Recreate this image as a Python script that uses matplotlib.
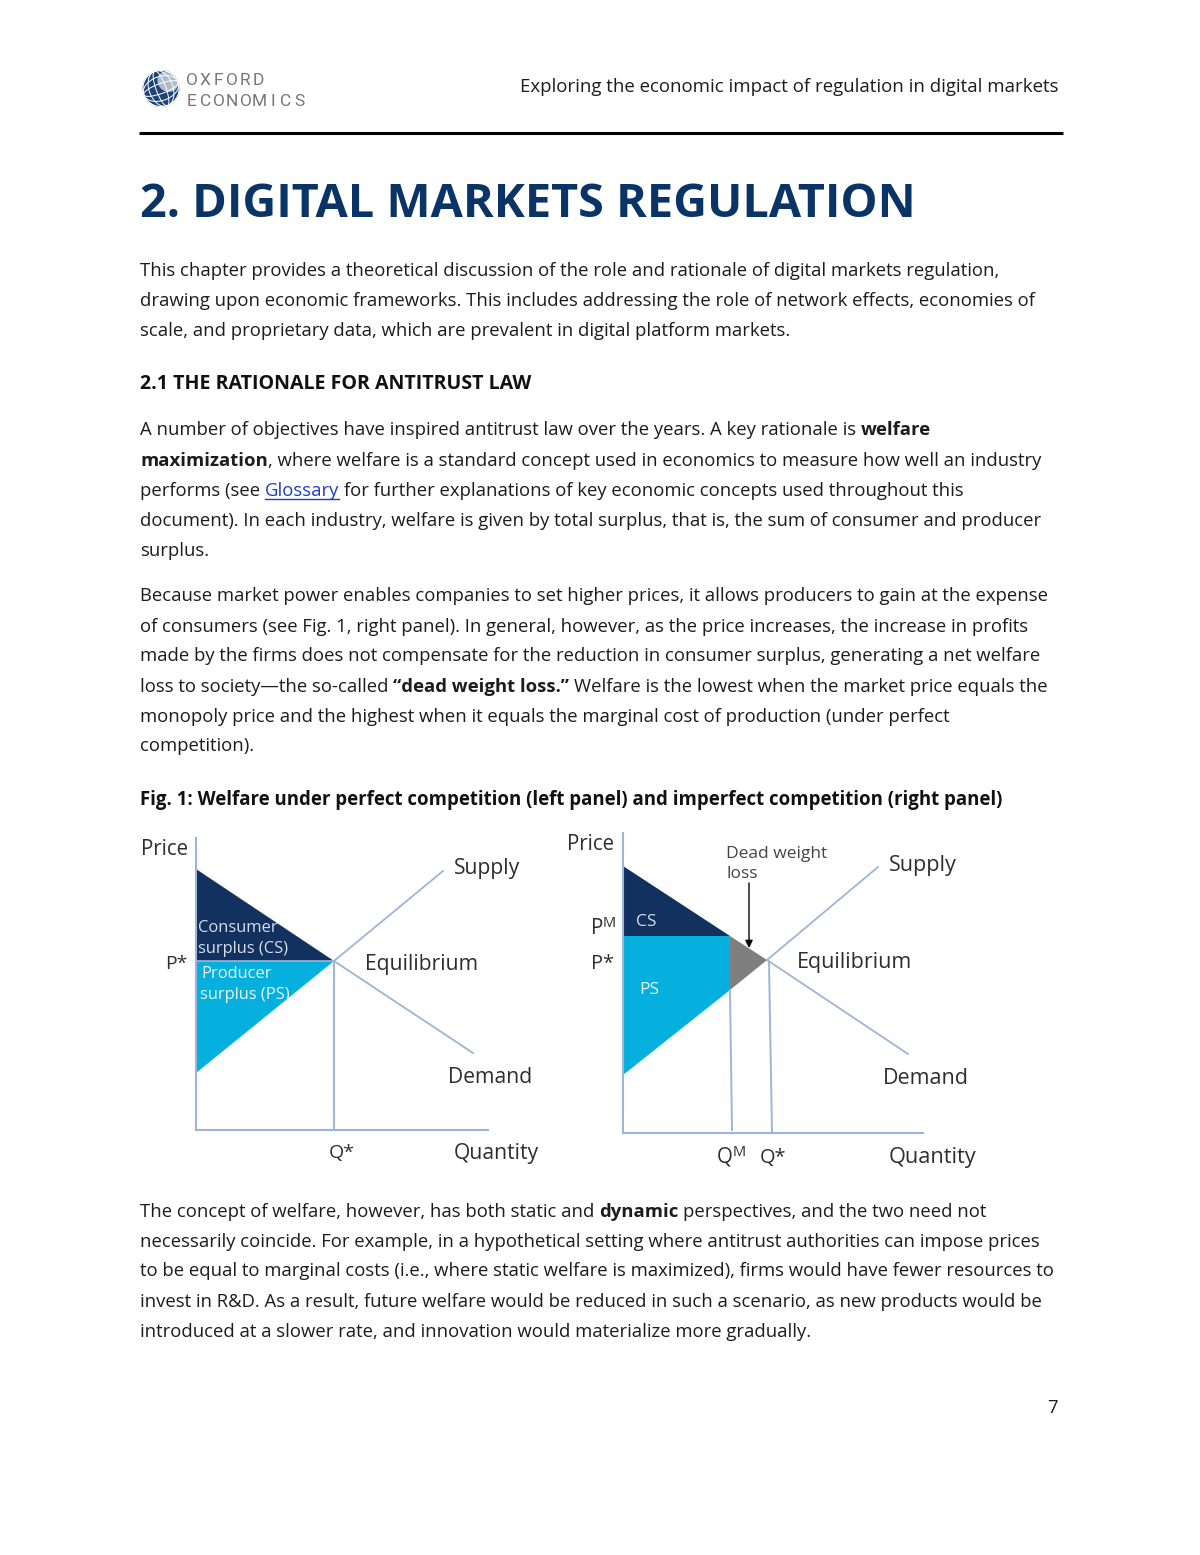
#!/usr/bin/env python3
# Report page with the welfare figure (perfect vs imperfect competition)

import matplotlib
matplotlib.use("Agg")
import matplotlib.pyplot as plt
from matplotlib.patches import Circle, Ellipse, Polygon

# page text, (text, style) runs per line
header_right = "Exploring the economic impact of regulation in digital markets"
title = "2. DIGITAL MARKETS REGULATION"
section = "2.1 THE RATIONALE FOR ANTITRUST LAW"
fig_title = "Fig. 1: Welfare under perfect competition (left panel) and imperfect competition (right panel)"
page_number = "7"

para1 = [
    "This chapter provides a theoretical discussion of the role and rationale of digital markets regulation,",
    "drawing upon economic frameworks. This includes addressing the role of network effects, economies of",
    "scale, and proprietary data, which are prevalent in digital platform markets.",
]
para2 = [
    [("A number of objectives have inspired antitrust law over the years. A key rationale is", "n"), (" welfare", "b")],
    [("maximization", "b"), (", where welfare is a standard concept used in economics to measure how well an industry", "n")],
    [("performs (see", "n"), (" Glossary", "l"), (" for further explanations of key economic concepts used throughout this", "n")],
    [("document). In each industry, welfare is given by total surplus, that is, the sum of consumer and producer", "n")],
    [("surplus.", "n")],
]
para3 = [
    [("Because market power enables companies to set higher prices, it allows producers to gain at the expense", "n")],
    [("of consumers (see Fig. 1, right panel). In general, however, as the price increases, the increase in profits", "n")],
    [("made by the firms does not compensate for the reduction in consumer surplus, generating a net welfare", "n")],
    [("loss to society—the so-called", "n"), (" “dead weight loss.”", "b"), (" Welfare is the lowest when the market price equals the", "n")],
    [("monopoly price and the highest when it equals the marginal cost of production (under perfect", "n")],
    [("competition).", "n")],
]
para4 = [
    [("The concept of welfare, however, has both static and", "n"), (" dynamic", "b"), (" perspectives, and the two need not", "n")],
    [("necessarily coincide. For example, in a hypothetical setting where antitrust authorities can impose prices", "n")],
    [("to be equal to marginal costs (i.e., where static welfare is maximized), firms would have fewer resources to", "n")],
    [("invest in R&D. As a result, future welfare would be reduced in such a scenario, as new products would be", "n")],
    [("introduced at a slower rate, and innovation would materialize more gradually.", "n")],
]

# left diagram, schematic units
left_axis_q = [0, 292]
left_axis_p = [0, 292]
left_eq = (138, 169)
left_p_top = 261
left_p_bottom = 57
left_supply_end = (247, 259)
left_demand_end = (277, 77)

# right diagram, schematic units
right_axis_q = [0, 300]
right_axis_p = [0, 300]
right_eq = (144, 173)
right_qm = 107
right_qm_foot = 109
right_q_star_foot = 149
right_pm = 197
right_supply_at_qm = 143
right_p_top = 267
right_p_bottom = 58
right_supply_end = (255, 266)
right_demand_end = (285, 79)

NAVY = "#13315f"
CYAN = "#05b0de"
GREY = "#7f7f7f"
LINE = "#9db5d6"
TITLE = "#0b3466"
INK = "#1c1c1c"
LABEL = "#2e2e2e"
FONT = "Open Sans"
BODY = 13.3
DIAG = 15.2

fig = plt.figure(figsize=(12, 15.55), dpi=100)
page = fig.add_axes([0, 0, 1, 1])
page.set_xlim(0, 1200)
page.set_ylim(1555, 0)
page.axis("off")
renderer = fig.canvas.get_renderer()


def put(x, y, s, size=BODY, color=INK, weight="normal", ha="left", family=FONT):
    return page.text(x, y, s, fontsize=size, color=color, fontweight=weight,
                     ha=ha, va="baseline", family=family, zorder=5)


def width_of(t):
    return t.get_window_extent(renderer).width


def put_runs(x, y, runs, size=BODY):
    gap = size * 0.36
    for s, style in runs:
        if s.startswith(" "):
            x += gap
            s = s[1:]
        color = "#1a3fc4" if style == "l" else INK
        t = put(x, y, s, size, color, "bold" if style == "b" else "normal")
        w = width_of(t)
        if style == "l":
            page.plot([x, x + w], [y + 3, y + 3], color=color, lw=1)
        x += w


def axes_at(x0, y_bottom, w, h):
    # panel axes from page pixels, one unit is one pixel
    ax = fig.add_axes([x0 / 1200, 1 - y_bottom / 1555, w / 1200, h / 1555])
    ax.set_xlim(0, w)
    ax.set_ylim(0, h)
    ax.axis("off")
    ax.patch.set_alpha(0)
    return ax


# header logo, a rough globe
globe_x, globe_y = 161, 88.5
globe = Circle((globe_x, globe_y), 18.5, color="#1f4478", lw=0, zorder=2)
page.add_patch(globe)
light = Ellipse((globe_x + 7, globe_y - 7), 22, 20, angle=40, color="#aebbcd", lw=0, zorder=2)
page.add_patch(light)
light.set_clip_path(globe)
for w in [10, 24, 36]:
    for patch in [Ellipse((globe_x, globe_y), w, 37, angle=-20, fill=False, ec="white", lw=0.7, zorder=3),
                  Ellipse((globe_x, globe_y), 37, w, angle=-20, fill=False, ec="white", lw=0.7, zorder=3)]:
        page.add_patch(patch)
        patch.set_clip_path(globe)
for i, ch in enumerate("OXFORD"):
    put(192 + i * 13.2, 85, ch, 12.5, "#777777", ha="center", family="Roboto")
for i, ch in enumerate("ECONOMICS"):
    put(192 + i * 13.4, 106, ch, 12.5, "#777777", ha="center", family="Roboto")
put(1058, 92, header_right, 13.45, ha="right")
page.plot([139, 1063], [132.5, 132.5], color="black", lw=2.2, solid_capstyle="butt")

# body text
put(140, 217, title, 33.7, TITLE, "bold")
for y, s in zip([276, 306, 336], para1):
    put(140, y, s)
put(140, 389, section, 14.1, "#111111", "bold")
for y, runs in zip([435, 466, 496, 526, 556], para2):
    put_runs(140, y, runs)
for y, runs in zip([601, 632, 661, 692, 722, 751], para3):
    put_runs(140, y, runs)
put(140, 805, fig_title, 13.4, "#111111", "bold")
for y, runs in zip([1217, 1247, 1276, 1307, 1337], para4):
    put_runs(140, y, runs)
put(1058, 1413, page_number, BODY, ha="right")

# left panel
ax = axes_at(196, 1130, 300, 295)
q, p = left_eq
ax.add_patch(Polygon([(0, left_p_top), (q, p), (0, p)], color=NAVY, lw=0))
ax.add_patch(Polygon([(0, left_p_bottom), (q, p), (0, p)], color=CYAN, lw=0))
ax.plot([0, 0], left_axis_p, color=LINE, lw=1.5, clip_on=False)
ax.plot(left_axis_q, [0, 0], color=LINE, lw=1.5, clip_on=False)
ax.plot([q, q], [0, p], color=LINE, lw=1.4)
ax.plot([0, q], [p, p], color=LINE, lw=1.2)
ax.plot([q, left_supply_end[0]], [p, left_supply_end[1]], color=LINE, lw=1.3)
ax.plot([q, left_demand_end[0]], [p, left_demand_end[1]], color=LINE, lw=1.3)

put(141, 855, "Price", 14.8, LABEL)
put(165, 969, "P*", 14, LABEL)
put(329, 1158, "Q*", 14, LABEL)
put(454, 874, "Supply", DIAG, LABEL)
put(365, 970, "Equilibrium", DIAG, LABEL)
put(448, 1083, "Demand", DIAG, LABEL)
put(454, 1159, "Quantity", DIAG, LABEL)
for x, y, s, c in [(198, 932, "Consumer", "#d5deea"), (198, 953, "surplus (CS)", "#d5deea"),
                   (201, 978, "Producer", "#e6f6fb"), (200, 999, "surplus (PS)", "#e6f6fb")]:
    put(x, y, s, 11.9, c)

# right panel
ax2 = axes_at(623, 1133, 310, 305)
q, p = right_eq
ax2.add_patch(Polygon([(0, right_p_top), (right_qm, right_pm), (0, right_pm)], color=NAVY, lw=0))
ax2.add_patch(Polygon([(0, right_p_bottom), (right_qm, right_supply_at_qm), (right_qm, right_pm), (0, right_pm)],
                      color=CYAN, lw=0))
ax2.add_patch(Polygon([(right_qm, right_pm), (q, p), (right_qm, right_supply_at_qm)], color=GREY, lw=0))
ax2.plot([0, 0], right_axis_p, color=LINE, lw=1.5, clip_on=False)
ax2.plot(right_axis_q, [0, 0], color=LINE, lw=1.5, clip_on=False)
ax2.plot([right_qm, right_qm_foot], [right_supply_at_qm, 3], color=LINE, lw=1.4)
ax2.plot([q + 2, right_q_star_foot], [p - 2, 0], color=LINE, lw=1.4)
ax2.plot([q, right_supply_end[0]], [p, right_supply_end[1]], color=LINE, lw=1.3)
ax2.plot([q, right_demand_end[0]], [p, right_demand_end[1]], color=LINE, lw=1.3)

put(567, 850, "Price", 14.8, LABEL)
put(591, 934, "P", 14.8, LABEL)
put(603, 927, "M", 10.5, LABEL)
put(591, 969, "P*", 14.4, LABEL)
put(717, 1163, "Q", 14.8, LABEL)
put(733, 1156, "M", 10.5, LABEL)
put(760, 1163, "Q*", 14.4, LABEL)
put(889, 871, "Supply", 15.6, LABEL)
put(797, 968, "Equilibrium", 15.5, LABEL)
put(883, 1084, "Demand", 15.5, LABEL)
put(889, 1163, "Quantity", 15.7, LABEL)
put(726, 858, "Dead weight", 12.5, "#444444")
put(726, 878, "loss", 12.5, "#444444")
put(636, 926, "CS", 12.5, "#d5deea")
put(639, 994, "PS", 12.5, "#e6f6fb")
page.set_zorder(3)
page.annotate("", xy=(749, 948), xytext=(749, 883),
              arrowprops=dict(arrowstyle="-|>", color="black", lw=1, mutation_scale=11, shrinkA=0, shrinkB=0))

fig.savefig("out.png", dpi=100)
